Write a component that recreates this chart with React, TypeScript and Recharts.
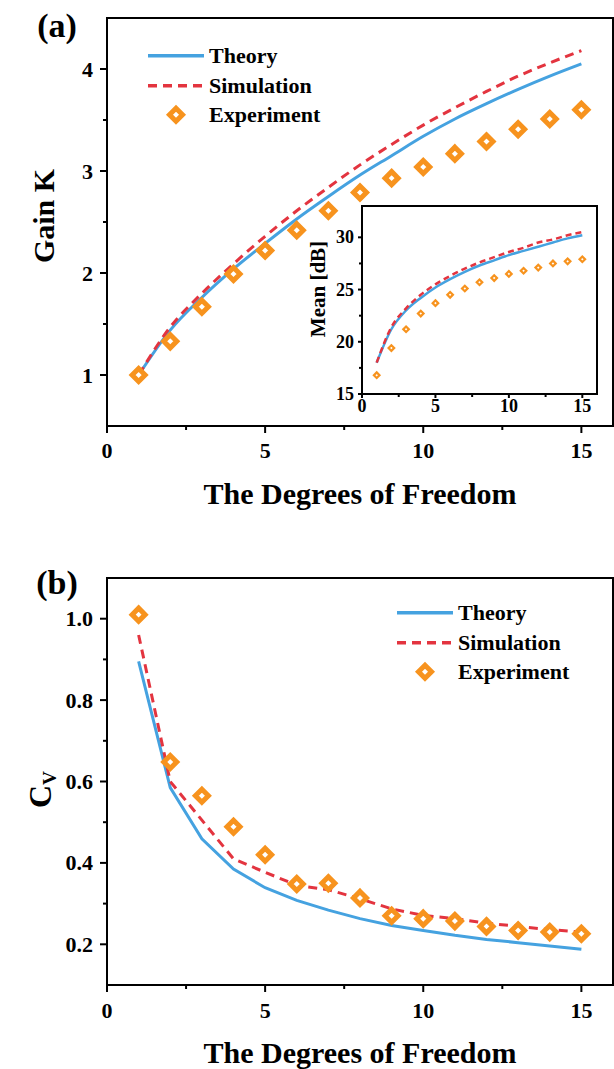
import React from "react";
import { ComposedChart, Line, Scatter, XAxis, YAxis, ReferenceArea, Legend, Label } from "recharts";

// degrees of freedom (x for every series)
const dof = [1, 2, 3, 4, 5, 6, 7, 8, 9, 10, 11, 12, 13, 14, 15];

// (a) gain K
const gainTheory = [1.0, 1.44, 1.76, 2.04, 2.29, 2.53, 2.75, 2.96, 3.15, 3.34, 3.51, 3.66, 3.8, 3.93, 4.05];
const gainSim = [1.0, 1.47, 1.8, 2.09, 2.36, 2.61, 2.84, 3.06, 3.26, 3.45, 3.62, 3.78, 3.93, 4.06, 4.18];
const gainExp = [1.0, 1.33, 1.67, 1.99, 2.22, 2.42, 2.61, 2.79, 2.93, 3.04, 3.17, 3.29, 3.41, 3.51, 3.6];

// (a) inset: mean [dB]
const meanTheory = [18.0, 21.2, 23.0, 24.2, 25.2, 26.0, 26.7, 27.3, 27.8, 28.3, 28.7, 29.1, 29.5, 29.9, 30.2];
const meanSim = [18.0, 21.4, 23.2, 24.5, 25.5, 26.3, 27.0, 27.6, 28.1, 28.6, 29.0, 29.5, 29.8, 30.2, 30.5];
const meanExp = [16.8, 19.4, 21.2, 22.7, 23.7, 24.5, 25.1, 25.7, 26.1, 26.5, 26.8, 27.1, 27.5, 27.7, 27.9];

// (b) C_V
const cvTheory = [0.895, 0.585, 0.459, 0.385, 0.339, 0.308, 0.284, 0.263, 0.246, 0.234, 0.222, 0.212, 0.204, 0.196, 0.188];
const cvSim = [0.96, 0.6, 0.505, 0.41, 0.377, 0.345, 0.334, 0.312, 0.287, 0.271, 0.263, 0.252, 0.244, 0.236, 0.23];
const cvExp = [1.01, 0.648, 0.565, 0.489, 0.42, 0.348, 0.35, 0.314, 0.27, 0.263, 0.257, 0.244, 0.234, 0.23, 0.226];

// ticks
const xMajor = [0, 5, 10, 15];
const xMinor = [2.5, 7.5, 12.5];
const gainMajor = [1, 2, 3, 4];
const gainMinor = [1.5, 2.5, 3.5];
const meanMajor = [15, 20, 25, 30];
const meanMinor = [17.5, 22.5, 27.5];
const cvMajor = [0.2, 0.4, 0.6, 0.8, 1.0];
const cvMinor = [0.3, 0.5, 0.7, 0.9];

const seriesNames = ["Theory", "Simulation", "Experiment"];

const BLUE = "#45a2e0";
const RED = "#e3343f";
const ORANGE = "#f7931e";
const FONT = '"Liberation Serif", "Times New Roman", serif';

const rows = (a: number[], b: number[], c: number[]) =>
  dof.map((x, i) => ({ x, theory: a[i], sim: b[i], exp: c[i] }));

const gainRows = rows(gainTheory, gainSim, gainExp);
const meanRows = rows(meanTheory, meanSim, meanExp);
const cvRows = rows(cvTheory, cvSim, cvExp);

const sortTicks = (a: number[], b: number[]) => [...a, ...b].sort((p, q) => p - q);

const diamond = (r: number, sw: number) => (props: any) => {
  const { cx, cy } = props;
  if (cx == null || cy == null) return <g />;
  return (
    <path
      d={`M${cx},${cy - r}L${cx + r},${cy}L${cx},${cy + r}L${cx - r},${cy}Z`}
      fill="#fff"
      stroke={ORANGE}
      strokeWidth={sw}
    />
  );
};

const xTick = (majors: number[], size: number, len: number, minorLen: number, gap: number) => (props: any) => {
  const { x, y, payload } = props;
  const v = payload.value;
  const major = majors.includes(v);
  return (
    <g>
      <line x1={x} y1={y} x2={x} y2={y + (major ? len : minorLen)} stroke="#000" strokeWidth={2} />
      {major && (
        <text x={x} y={y + gap} textAnchor="middle" dominantBaseline="central" fontSize={size} fontWeight="bold" fontFamily={FONT} fill="#000">
          {v}
        </text>
      )}
    </g>
  );
};

const yTick = (majors: number[], size: number, len: number, minorLen: number, gap: number, fmt: (v: number) => string) => (props: any) => {
  const { x, y, payload } = props;
  const v = payload.value;
  const major = majors.includes(v);
  return (
    <g>
      <line x1={x} y1={y} x2={x - (major ? len : minorLen)} y2={y} stroke="#000" strokeWidth={2} />
      {major && (
        <text x={x - gap} y={y} textAnchor="end" dominantBaseline="central" fontSize={size} fontWeight="bold" fontFamily={FONT} fill="#000">
          {fmt(v)}
        </text>
      )}
    </g>
  );
};

const xTitle = (dy: number) => (props: any) => {
  const vb = props.viewBox;
  return (
    <text x={vb.x + vb.width / 2} y={vb.y + dy} textAnchor="middle" dominantBaseline="central" fontSize={30} fontWeight="bold" fontFamily={FONT} fill="#000">
      The Degrees of Freedom
    </text>
  );
};

const yTitle = (cx: number, dy: number, size: number, text: string, sub?: string) => (props: any) => {
  const vb = props.viewBox;
  const cy = vb.y + vb.height / 2 + dy;
  return (
    <text x={cx} y={cy} transform={`rotate(-90, ${cx}, ${cy})`} textAnchor="middle" dominantBaseline="central" fontSize={size} fontWeight="bold" fontFamily={FONT} fill="#000">
      {text}
      {sub && (
        <tspan fontSize={size * 0.6} dy={size * 0.28}>
          {sub}
        </tspan>
      )}
    </text>
  );
};

function LegendBox() {
  const rowH = 29.5;
  return (
    <div style={{ fontFamily: FONT, fontWeight: "bold", fontSize: 22, color: "#000", lineHeight: `${rowH}px` }}>
      {seriesNames.map((name, i) => (
        <div key={name} style={{ display: "flex", alignItems: "center", height: rowH }}>
          <svg width={56} height={rowH} style={{ marginRight: 5 }}>
            {i === 0 && <line x1={0} y1={rowH / 2} x2={56} y2={rowH / 2} stroke={BLUE} strokeWidth={3.5} />}
            {i === 1 && <line x1={0} y1={rowH / 2} x2={56} y2={rowH / 2} stroke={RED} strokeWidth={3.5} strokeDasharray="9 6" />}
            {i === 2 && diamond(6.5, 5)({ cx: 28, cy: rowH / 2 })}
          </svg>
          <span>{name}</span>
        </div>
      ))}
    </div>
  );
}

const axisLine = { stroke: "#000", strokeWidth: 2 };

function PanelLabel({ text, x, y }: { text: string; x: number; y: number }) {
  return (
    <div style={{ position: "absolute", left: x, top: y, transform: "translate(-50%, -50%)", fontFamily: FONT, fontWeight: "bold", fontSize: 34, lineHeight: "34px" }}>
      {text}
    </div>
  );
}

export default function App() {
  return (
    <div style={{ position: "absolute", left: 0, top: 0, width: 614, height: 1069, background: "#fff", overflow: "hidden" }}>
      {/* (a) Gain K */}
      <div style={{ position: "absolute", left: 0, top: 0 }}>
        <ComposedChart width={614} height={540} data={gainRows} margin={{ top: 18, right: 1, left: 0, bottom: 0 }}>
          <XAxis dataKey="x" type="number" domain={[0, 16]} ticks={sortTicks(xMajor, xMinor)} interval={0} height={114} tickSize={0} tickMargin={0} tickLine={false} axisLine={axisLine} tick={xTick(xMajor, 22, 7, 4, 24)}>
            <Label content={xTitle(67)} />
          </XAxis>
          <YAxis type="number" domain={[0.5, 4.5]} ticks={sortTicks(gainMajor, gainMinor)} interval={0} width={107} tickSize={0} tickMargin={0} tickLine={false} axisLine={axisLine} tick={yTick(gainMajor, 22, 7, 4, 14, (v) => String(v))}>
            <Label content={yTitle(43, -6, 30, "Gain K")} />
          </YAxis>
          <ReferenceArea x1={0} x2={16} y1={0.5} y2={4.5} fill="none" stroke="#000" strokeWidth={2} ifOverflow="visible" />
          <Line dataKey="theory" type="monotone" stroke={BLUE} strokeWidth={3} dot={false} isAnimationActive={false} />
          <Line dataKey="sim" type="monotone" stroke={RED} strokeWidth={3} strokeDasharray="9 6" dot={false} isAnimationActive={false} />
          <Scatter dataKey="exp" shape={diamond(6.5, 5)} isAnimationActive={false} />
          <Legend layout="vertical" align="center" verticalAlign="middle" content={() => <LegendBox />} wrapperStyle={{ left: 148, top: 41, width: "auto", height: "auto" }} />
        </ComposedChart>
      </div>

      {/* inset: Mean [dB] */}
      <div style={{ position: "absolute", left: 290, top: 196 }}>
        <ComposedChart width={320} height={222} data={meanRows} margin={{ top: 10, right: 13, left: 0, bottom: 0 }}>
          <XAxis dataKey="x" type="number" domain={[0, 16]} ticks={sortTicks(xMajor, xMinor)} interval={0} height={24} tickSize={0} tickMargin={0} tickLine={false} axisLine={axisLine} tick={xTick(xMajor, 18, 4, 3, 12)} />
          <YAxis type="number" domain={[15, 33]} ticks={sortTicks(meanMajor, meanMinor)} interval={0} width={72} tickSize={0} tickMargin={0} tickLine={false} axisLine={axisLine} tick={yTick(meanMajor, 18, 4, 3, 8, (v) => String(v))}>
            <Label content={yTitle(28, -11, 21, "Mean [dB]")} />
          </YAxis>
          <ReferenceArea x1={0} x2={16} y1={15} y2={33} fill="#fff" stroke="#000" strokeWidth={2} ifOverflow="visible" />
          <Line dataKey="theory" type="monotone" stroke={BLUE} strokeWidth={2.5} dot={false} isAnimationActive={false} />
          <Line dataKey="sim" type="monotone" stroke={RED} strokeWidth={2.5} strokeDasharray="6 4" dot={false} isAnimationActive={false} />
          <Scatter dataKey="exp" shape={diamond(2.8, 2.2)} isAnimationActive={false} />
        </ComposedChart>
      </div>

      {/* (b) C_V */}
      <div style={{ position: "absolute", left: 0, top: 540 }}>
        <ComposedChart width={614} height={529} data={cvRows} margin={{ top: 38, right: 1, left: 0, bottom: 0 }}>
          <XAxis dataKey="x" type="number" domain={[0, 16]} ticks={sortTicks(xMajor, xMinor)} interval={0} height={84} tickSize={0} tickMargin={0} tickLine={false} axisLine={axisLine} tick={xTick(xMajor, 22, 7, 4, 25)}>
            <Label content={xTitle(67)} />
          </XAxis>
          <YAxis type="number" domain={[0.1, 1.1]} ticks={sortTicks(cvMajor, cvMinor)} interval={0} width={107} tickSize={0} tickMargin={0} tickLine={false} axisLine={axisLine} tick={yTick(cvMajor, 22, 7, 4, 14, (v) => v.toFixed(1))}>
            <Label content={yTitle(40, 8, 32, "C", "V")} />
          </YAxis>
          <ReferenceArea x1={0} x2={16} y1={0.1} y2={1.1} fill="none" stroke="#000" strokeWidth={2} ifOverflow="visible" />
          <Line dataKey="theory" type="linear" stroke={BLUE} strokeWidth={3} dot={false} isAnimationActive={false} />
          <Line dataKey="sim" type="linear" stroke={RED} strokeWidth={3} strokeDasharray="9 6" dot={false} isAnimationActive={false} />
          <Scatter dataKey="exp" shape={diamond(6.5, 5)} isAnimationActive={false} />
          <Legend layout="vertical" align="center" verticalAlign="middle" content={() => <LegendBox />} wrapperStyle={{ left: 397, top: 58, width: "auto", height: "auto" }} />
        </ComposedChart>
      </div>

      <PanelLabel text="(a)" x={57} y={26} />
      <PanelLabel text="(b)" x={57} y={583} />
    </div>
  );
}
